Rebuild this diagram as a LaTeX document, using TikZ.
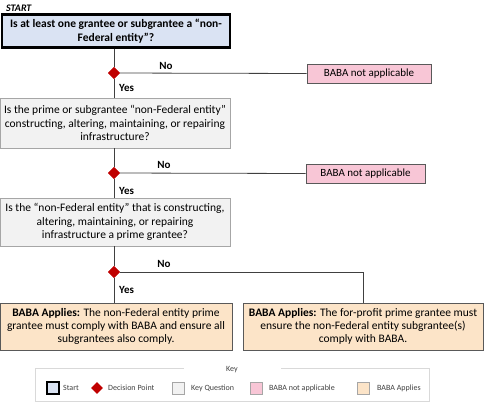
\documentclass[tikz,border=0pt]{standalone}
\usepackage{fontspec}
\setmainfont{Carlito}
\usetikzlibrary{shapes.geometric}
\definecolor{startblue}{HTML}{DAE3F3}
\definecolor{qgrey}{HTML}{F2F2F2}
\definecolor{qborder}{HTML}{A6A6A6}
\definecolor{napink}{HTML}{F8C6D6}
\definecolor{appeach}{HTML}{FCE4C8}
\definecolor{decred}{HTML}{C00000}
\definecolor{linegrey}{HTML}{404040}
\definecolor{keyborder}{HTML}{D9D9D9}
\definecolor{keytext}{HTML}{404040}
\begin{document}
\begin{tikzpicture}[x=1pt,y=-1pt,
  startbox/.style={draw=black,line width=2.5pt,fill=startblue,minimum width=228pt,minimum height=33pt,align=center,font=\fontsize{11.5}{13.5}\selectfont\bfseries,inner sep=0pt},
  qbox/.style={draw=qborder,line width=0.8pt,fill=qgrey,minimum width=230pt,align=center,font=\fontsize{11.5}{13.5}\selectfont,inner sep=0pt},
  nabox/.style={draw=gray!70!black,line width=0.8pt,fill=napink,minimum height=19pt,font=\fontsize{11}{13}\selectfont,inner sep=0pt},
  appbox/.style={draw=gray!70!black,line width=0.8pt,fill=appeach,minimum height=47pt,align=center,font=\fontsize{11.5}{13.2}\selectfont,inner sep=0pt},
  dec/.style={diamond,fill=decred,minimum size=12pt,inner sep=0pt},
  conn/.style={draw=linegrey,line width=0.8pt},
  lbl/.style={font=\fontsize{11}{13}\selectfont\bfseries,inner sep=0pt},
  keyitem/.style={font=\fontsize{8}{9}\selectfont,text=keytext,inner sep=0pt,anchor=west},
  keysq/.style={minimum size=12pt,inner sep=0pt},
]
\useasboundingbox (0,0) rectangle (484,404);

\node[font=\fontsize{10}{12}\selectfont\bfseries\itshape,anchor=west,inner sep=0pt] (startlbl) at (6,8) {START};
\node[startbox] (b1) at (116,31) {Is at least one grantee or subgrantee a ``non-\\Federal entity''?};
\node[dec] (d1) at (114,73) {};
\node[nabox,minimum width=124pt] (na1) at (369,73.5) {BABA not applicable};
\node[lbl] (no1) at (166,66) {No};
\node[lbl,anchor=west] (yes1) at (119,88) {Yes};

\node[qbox,minimum height=50pt] (b2) at (115,123) {Is the prime or subgrantee ``non-Federal entity''\\constructing, altering, maintaining, or repairing\\infrastructure?};
\node[dec] (d2) at (114,173) {};
\node[nabox,minimum width=119pt] (na2) at (365.5,173.5) {BABA not applicable};
\node[lbl] (no2) at (164,165) {No};
\node[lbl,anchor=west] (yes2) at (119,191) {Yes};

\node[qbox,minimum height=48pt] (b3) at (115,222) {Is the ``non-Federal entity'' that is constructing,\\altering, maintaining, or repairing\\infrastructure a prime grantee?};
\node[dec] (d3) at (114,272) {};
\node[lbl] (no3) at (164,264) {No};
\node[lbl,anchor=west] (yes3) at (119,290) {Yes};

\node[appbox,minimum width=232pt] (a1) at (116,326.5) {\textbf{BABA Applies:} The non-Federal entity prime\\grantee must comply with BABA and ensure all\\subgrantees also comply.};
\node[appbox,minimum width=240pt] (a2) at (363,326.5) {\textbf{BABA Applies:} The for-profit prime grantee must\\ensure the non-Federal entity subgrantee(s)\\comply with BABA.};

\draw[conn] (d1 |- b1.south) -- (d1) -- (d1 |- b2.north);
\draw[conn] (d1) -- (na1.west);
\draw[conn] (d2 |- b2.south) -- (d2) -- (d2 |- b3.north);
\draw[conn] (d2) -- (na2.west);
\draw[conn] (d3 |- b3.south) -- (d3) -- (d3 |- a1.north);
\draw[conn] (d3) -| (a2.north);
\node[dec] at (d1) {};
\node[dec] at (d2) {};
\node[dec] at (d3) {};

% key
\draw[draw=keyborder,line width=0.8pt] (35,368) rectangle (429,401);
\node[fill=white,minimum width=97pt,minimum height=6pt,inner sep=0pt,font=\fontsize{8}{9}\selectfont,text=keytext] (keylbl) at (232,370) {Key};
\node[keysq,draw=black,line width=2pt,fill=startblue] (k1) at (53,388) {};
\node[keyitem] (k1t) at (63,388) {Start};
\node[dec,minimum size=12pt] (k2) at (97,388) {};
\node[keyitem] (k2t) at (108,388) {Decision Point};
\node[keysq,draw=qborder,line width=0.6pt,fill=qgrey] (k3) at (178,388) {};
\node[keyitem] (k3t) at (191,388) {Key Question};
\node[keysq,draw=qborder,line width=0.6pt,fill=napink] (k4) at (256,388) {};
\node[keyitem] (k4t) at (269,388) {BABA not applicable};
\node[keysq,draw=qborder,line width=0.6pt,fill=appeach] (k5) at (363,388) {};
\node[keyitem] (k5t) at (377,388) {BABA Applies};
\end{tikzpicture}
\end{document}
